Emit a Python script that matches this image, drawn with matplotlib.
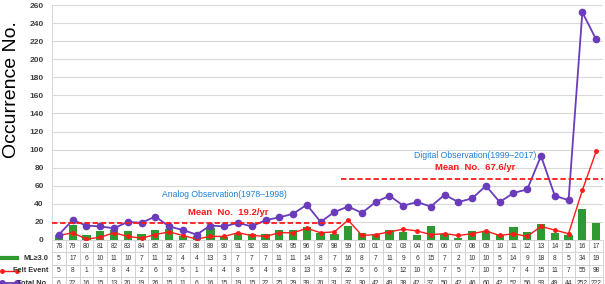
import matplotlib.pyplot as plt
import numpy as np

years = ["78", "79", "80", "81", "82", "83", "84", "85", "86", "87",
         "88", "89", "90", "91", "92", "93", "94", "95", "96", "97",
         "98", "99", "00", "01", "02", "03", "04", "05", "06", "07",
         "08", "09", "10", "11", "12", "13", "14", "15", "16", "17"]
ml3 = [5, 17, 6, 10, 11, 10, 7, 11, 12, 4, 4, 13, 3, 7, 7, 7, 11, 11, 14, 8,
       7, 16, 8, 7, 11, 9, 6, 15, 7, 2, 10, 10, 5, 14, 9, 18, 8, 5, 34, 19]
felt = [5, 8, 1, 3, 8, 4, 2, 6, 9, 5, 1, 4, 4, 8, 5, 4, 8, 8, 13, 8,
        9, 22, 5, 6, 9, 12, 10, 6, 7, 5, 7, 10, 5, 7, 4, 15, 11, 7, 55, 98]
total = [6, 22, 16, 15, 13, 20, 19, 26, 15, 11, 6, 16, 15, 19, 15, 22, 25, 29, 39, 20,
         31, 37, 30, 42, 49, 38, 42, 37, 50, 42, 46, 60, 42, 52, 56, 93, 49, 44, 252, 222]
row_names = ["ML\u22653.0", "Felt Event", "Total No."]
mean_analog = 19.2
mean_digital = 67.6

GREEN = "#2f9a2f"
RED = "#ff1a1a"
PURPLE = "#6a3cbc"
BLUE = "#1f7fd4"

plt.rcParams['font.family'] = ['Liberation Sans', 'DejaVu Sans']

fig = plt.figure(figsize=(6.05, 2.84), dpi=100)
ax = fig.add_axes([52/605, 1 - 240/284, 551/605, 235/284])

x = np.arange(len(years))
ax.bar(x, ml3, width=0.6, color=GREEN, zorder=2)
ax.plot(x, felt, color=RED, lw=1.0, marker="o", ms=2.5, zorder=3)
ax.plot(x, total, color=PURPLE, lw=1.3, marker="o", ms=4.5, zorder=4)

# mean lines
split = years.index("99") - 0.5
ax.hlines(mean_analog, -0.5, split, colors=RED, linestyles=(0, (3, 1.5)), lw=1.3, zorder=5)
ax.hlines(mean_digital, split, len(years) - 0.5, colors=RED, linestyles=(0, (3, 1.5)), lw=1.3, zorder=5)

ax.text(12.0, 50, "Analog Observation(1978\u20131998)", color=BLUE, fontsize=6.2, ha="center", va="center")
ax.text(12.3, 30, "Mean  No.  19.2/yr", color=RED, fontsize=6.8, fontweight="bold", ha="center", va="center")
ax.text(30.2, 94, "Digital Observation(1999\u20132017)", color=BLUE, fontsize=6.2, ha="center", va="center")
ax.text(30.2, 80, "Mean  No.  67.6/yr", color=RED, fontsize=6.8, fontweight="bold", ha="center", va="center")

ax.set_xlim(-0.5, len(years) - 0.5)
ax.set_ylim(0, 260)
ax.set_yticks(np.arange(0, 261, 20))
ax.tick_params(axis="y", length=0, labelsize=6, labelcolor="#404040", pad=6)
for lb in ax.get_yticklabels():
    lb.set_fontweight("bold")
ax.set_xticks([])
ax.grid(axis="y", color="#d9d9d9", lw=0.8, zorder=0)
for s in ["top", "right", "bottom"]:
    ax.spines[s].set_visible(False)
ax.spines["left"].set_color("#d9d9d9")

ax.set_ylabel("Occurrence No.", fontsize=14)
ax.yaxis.set_label_coords(-0.058, 0.64)

# data table under the chart
cells = [years, [str(v) for v in ml3], [str(v) for v in felt], [str(v) for v in total]]
row_h = 12.3 / 235
tbl = ax.table(cellText=cells, cellLoc="center",
               bbox=[0, -4 * row_h, 1, 4 * row_h])
tbl.auto_set_font_size(False)
tbl.set_fontsize(4.8)
for (r, c), cell in tbl.get_celld().items():
    cell.set_edgecolor("#cfcfcf")
    cell.set_linewidth(0.6)
    cell.get_text().set_color("#333333")

# row labels with legend keys
keys = [dict(color=GREEN, lw=3, marker=None),
        dict(color=RED, lw=1, marker="o", ms=2.5),
        dict(color=PURPLE, lw=1.3, marker="o", ms=4)]
for i, (name, k) in enumerate(zip(row_names, keys)):
    yc = 1 - (240 + 12.3 * (i + 1.5)) / 284
    fig.add_artist(plt.Line2D([2/605, 17/605], [yc, yc], transform=fig.transFigure, **k))
    fig.text(48/605, yc, name, fontsize=5.3, fontweight="bold", color="#333333", ha="right", va="center")

fig.savefig("out.png", dpi=100)
